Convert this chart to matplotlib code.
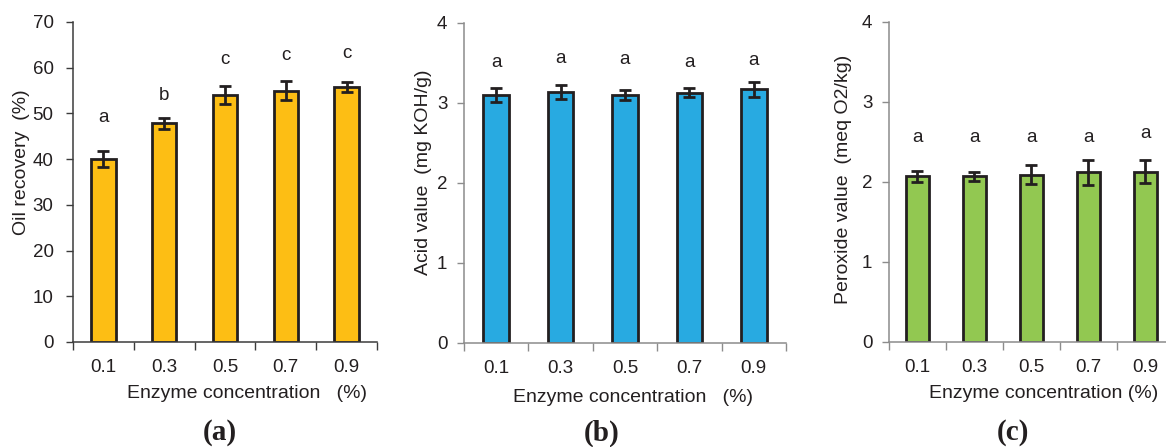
"""Enzyme concentration effect: oil recovery, acid value, peroxide value."""

import matplotlib

matplotlib.use("Agg")
import matplotlib.pyplot as plt  # noqa: E402
import numpy as np  # noqa: E402

plt.rcParams["font.family"] = ["Liberation Sans", "DejaVu Sans"]

conc = ["0.1", "0.3", "0.5", "0.7", "0.9"]

oil_recovery = [40.0, 47.8, 54.1, 55.0, 55.8]
oil_err = [1.7, 1.1, 2.0, 2.0, 1.1]
oil_letters = ["a", "b", "c", "c", "c"]
oil_letter_y = [49.0, 54.0, 61.8, 62.6, 63.2]

acid_value = [3.10, 3.14, 3.10, 3.13, 3.17]
acid_err = [0.09, 0.09, 0.06, 0.06, 0.09]
acid_letters = ["a", "a", "a", "a", "a"]
acid_letter_y = [3.50, 3.55, 3.54, 3.50, 3.53]

perox_value = [2.07, 2.07, 2.09, 2.12, 2.13]
perox_err = [0.07, 0.06, 0.12, 0.16, 0.14]
perox_letters = ["a", "a", "a", "a", "a"]
perox_letter_y = [2.55, 2.56, 2.55, 2.55, 2.60]

fig = plt.figure(figsize=(11.66, 4.47), dpi=100)
W, H = 1166, 447

panels = [
    # rect, values, err, letters, letter y, colour, ylim, ticks, spine colour, pad
    ([0.0626, 0.2349, 0.2607, 0.7159], oil_recovery, oil_err, oil_letters, oil_letter_y,
     "#FDBE14", 70, np.arange(0, 71, 10), "#3c3c3c", 9),
    ([0.3979, 0.2327, 0.2762, 0.7159], acid_value, acid_err, acid_letters, acid_letter_y,
     "#28AAE1", 4, np.arange(0, 5, 1), "#8c8c8c", 7),
    ([0.7624, 0.2349, 0.2444, 0.7159], perox_value, perox_err, perox_letters, perox_letter_y,
     "#92C851", 4, np.arange(0, 5, 1), "#8c8c8c", 7),
]

ink = "#231f20"
x = np.arange(len(conc))

for rect, vals, errs, letters, ly, col, ymax, yt, spine_col, pad in panels:
    ax = fig.add_axes(rect)
    ax.bar(x, vals, width=0.4, color=col, edgecolor=ink, linewidth=2.0, zorder=2)
    ax.errorbar(x, vals, yerr=errs, fmt="none", ecolor=ink, elinewidth=2.0,
                capsize=4, capthick=2.0, zorder=3)
    for xi, lab, yy in zip(x, letters, ly):
        ax.text(xi, yy, lab, ha="center", va="center", fontsize=13.5, color=ink)
    ax.set_xlim(-0.5, 4.5)
    ax.set_ylim(0, ymax)
    ax.set_yticks(yt)
    ax.set_yticklabels([str(v) for v in yt], fontsize=13.5, color=ink)
    ax.set_xticks(x)
    ax.set_xticklabels(conc, fontsize=13.5, color=ink)
    ax.tick_params(axis="x", which="major", length=0, pad=12)
    ax.set_xticks(np.arange(-0.5, 5.0, 1.0), minor=True)
    ax.tick_params(axis="x", which="minor", length=6, width=1.0, direction="out",
                   color=spine_col)
    ax.tick_params(axis="y", length=5, width=1.0, direction="out", color=spine_col, pad=pad)
    for side in ("top", "right"):
        ax.spines[side].set_visible(False)
    for side in ("left", "bottom"):
        ax.spines[side].set_color(spine_col)
        ax.spines[side].set_linewidth(1.1)

# axis titles and panel tags, placed in pixels
ylabels = [("Oil recovery  (%)", 22, 162),
           ("Acid value  (mg KOH/g)", 423, 172),
           ("Peroxide value  (meq O2/kg)", 844, 179)]
for txt, px, py in ylabels:
    fig.text(px / W, 1 - py / H, txt, rotation=90, ha="center", va="center",
             fontsize=14, color=ink)

xlabels = [("Enzyme concentration   (%)", 247, 393),
           ("Enzyme concentration   (%)", 633, 398),
           ("Enzyme concentration (%)", 1044, 393)]
for txt, px, py in xlabels:
    fig.text(px / W, 1 - py / H, txt, ha="center", va="center", fontsize=14, color=ink)

for lab, px in zip(["(a)", "(b)", "(c)"], [220, 602, 1013]):
    fig.text(px / W, 1 - 433 / H, lab, ha="center", va="center", fontsize=21,
             fontweight="bold", family="Liberation Serif", color=ink)

fig.savefig("out.png", dpi=100)
